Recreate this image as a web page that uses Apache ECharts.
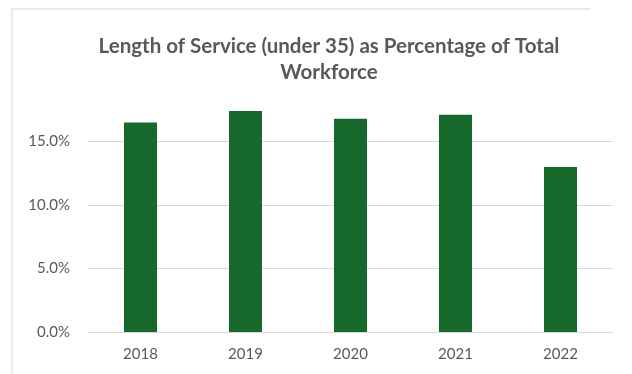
<!DOCTYPE html>
<html>
<head>
<meta charset="utf-8">
<script src="https://cdn.jsdelivr.net/npm/echarts@6/dist/echarts.min.js"></script>
<style>
  html, body { margin: 0; padding: 0; background: #fff; }
  #chart { width: 632px; height: 374px; }
</style>
</head>
<body>
<div id="chart"></div>
<script>
const years = ['2018', '2019', '2020', '2021', '2022'];
const under35Pct = [16.5, 17.4, 16.8, 17.1, 13.0];
const yTicks = { min: 0, max: 20, interval: 5 };

const chartDom = document.getElementById('chart');
const myChart = echarts.init(chartDom);

let option = {
    backgroundColor: '#fff',
    animation: false,
    title: {
        text: 'Length of Service (under 35) as Percentage of Total\nWorkforce',
        left: 324,
        top: 28,
        textAlign: 'center',
        textStyle: {
            fontFamily: 'Lato',
            fontSize: 20.5,
            fontWeight: 'bold',
            color: '#595959',
            lineHeight: 26
        }
    },
    graphic: [{
        type: 'polyline',
        shape: { points: [[12, 374], [12, 9], [590, 9]] },
        style: { stroke: '#e3e3e3', lineWidth: 1.5, fill: null }
    }],
    grid: {
        left: 88,
        right: 19,
        top: 78,
        bottom: 42
    },
    xAxis: {
        type: 'category',
        data: years,
        axisLine: { lineStyle: { color: '#d9d9d9' } },
        axisTick: { show: false },
        axisLabel: {
            color: '#595959',
            fontFamily: 'Lato',
            fontSize: 15,
            margin: 15
        }
    },
    yAxis: {
        type: 'value',
        min: yTicks.min,
        max: yTicks.max,
        interval: yTicks.interval,
        axisLine: { show: false },
        axisTick: { show: false },
        axisLabel: {
            color: '#595959',
            fontFamily: 'Lato',
            fontSize: 15,
            margin: 18,
            showMaxLabel: false,
            formatter: v => v.toFixed(1) + '%'
        },
        splitLine: {
            lineStyle: {
                color: ['#d9d9d9', '#d9d9d9', '#d9d9d9', '#d9d9d9', 'rgba(0,0,0,0)']
            }
        }
    },
    series: [{
        type: 'bar',
        data: under35Pct,
        barWidth: 33,
        itemStyle: { color: '#17692b' }
    }]
};

myChart.setOption(option);
</script>
</body>
</html>
